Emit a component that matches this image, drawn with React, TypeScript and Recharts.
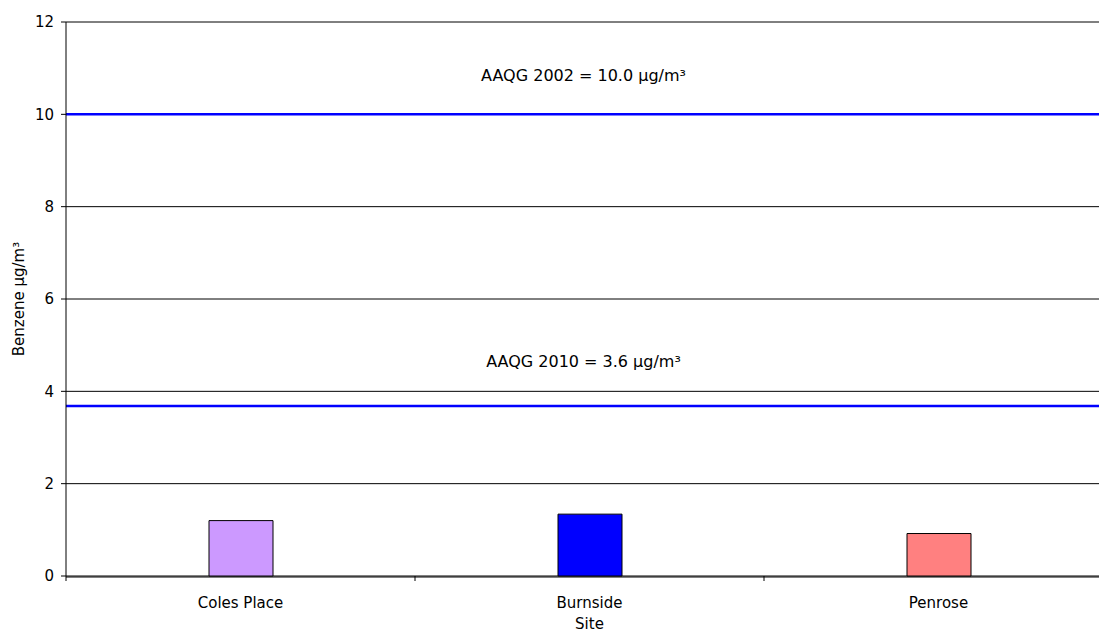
import { BarChart, Bar, Cell, XAxis, YAxis, CartesianGrid, ReferenceLine } from 'recharts';

const sites = ['Coles Place', 'Burnside', 'Penrose'];
const benzene = [1.2, 1.34, 0.92];
const barColors = ['#CC99FF', '#0000FF', '#FF8080'];
const yTicks = [0, 2, 4, 6, 8, 10, 12];
const edgeTicks = [0, 1, 2, 3];
const guidelines = [
  { value: 10, label: 'AAQG 2002 = 10.0 µg/m³', offset: 33 },
  { value: 3.68, label: 'AAQG 2010 = 3.6 µg/m³', offset: 39 }
];

const data = sites.map((site, i) => ({ site, idx: i + 0.5, value: benzene[i] }));

const font = { fontFamily: 'DejaVu Sans, Verdana, sans-serif', fontSize: 15, fill: '#000' };

export default function App() {
  return (
    <div
      style={{
        position: 'absolute',
        left: 0,
        top: 0,
        width: 1099,
        height: 632,
        overflow: 'hidden',
        background: '#fff'
      }}
    >
      <BarChart
        width={1120}
        height={632}
        data={data}
        margin={{ top: 22, right: 7, bottom: 0, left: 0 }}
      >
        <CartesianGrid vertical={false} stroke="#000" xAxisId="b" />
        {/* category axis: labels only, ticks drawn by the edge axis */}
        <XAxis
          xAxisId="b"
          dataKey="site"
          height={55}
          tickLine={false}
          axisLine={{ stroke: '#000' }}
          tickMargin={14}
          tick={font}
          label={{ value: 'Site', position: 'insideBottom', offset: 3, style: font }}
        />
        <XAxis
          xAxisId="a"
          type="number"
          dataKey="idx"
          domain={[0, 3]}
          ticks={edgeTicks}
          tick={() => <g />}
          axisLine={false}
          tickSize={5}
          tickLine={{ stroke: '#000' }}
          height={1}
        />
        <YAxis
          domain={[0, 12]}
          ticks={yTicks}
          width={66}
          tickSize={5}
          tickMargin={7}
          axisLine={{ stroke: '#000' }}
          tickLine={{ stroke: '#000' }}
          tick={font}
          label={{
            value: 'Benzene µg/m³',
            angle: -90,
            position: 'insideLeft',
            offset: 19,
            style: { ...font, textAnchor: 'middle' }
          }}
        />
        <Bar
          xAxisId="b"
          dataKey="value"
          barSize={64}
          stroke="#000"
          strokeWidth={1}
          isAnimationActive={false}
        >
          {data.map((d, i) => (
            <Cell key={d.site} fill={barColors[i]} />
          ))}
        </Bar>
        {guidelines.map(g => (
          <ReferenceLine
            key={g.label}
            xAxisId="b"
            y={g.value}
            stroke="#0000FF"
            strokeWidth={2.5}
            label={{
              value: g.label,
              position: 'top',
              offset: g.offset,
              dx: -6,
              style: { ...font, fontSize: 16 }
            }}
          />
        ))}
      </BarChart>
    </div>
  );
}
